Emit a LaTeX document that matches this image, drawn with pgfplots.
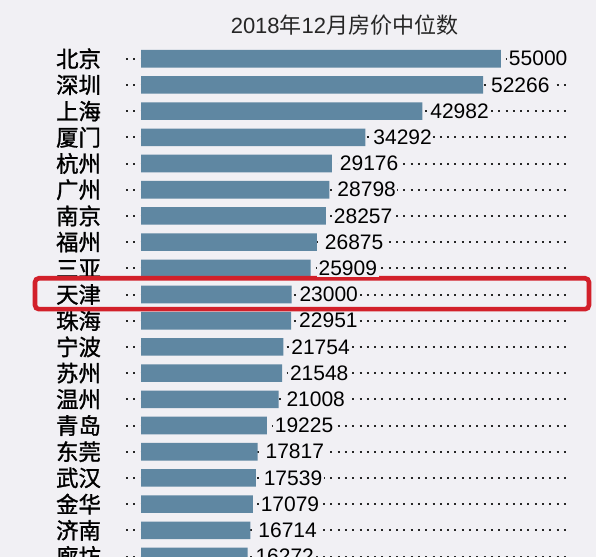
\documentclass[border=0pt]{standalone}
\usepackage{pgfplots}
\pgfplotsset{compat=1.18}
\usepackage{fontspec}
\setmainfont{Liberation Sans}
\newfontfamily\cjk{Noto Sans CJK SC}
\newfontfamily\cjkb[FakeBold=1.2]{Noto Sans CJK SC}
\definecolor{bg}{HTML}{F1F0F4}
\definecolor{barc}{HTML}{5F87A2}
\definecolor{redbox}{HTML}{D2202A}
\pgfplotstableread{
i v l
0 55000 55000
1 52266 52266
2 42982 42982
3 34292 34292
4 29176 29176
5 28798 28798
6 28257 28257
7 26875 26875
8 25909 25909
9 23000 23000
10 22951 22951
11 21754 21754
12 21548 21548
13 21008 21008
14 19225 19225
15 17817 17817
16 17539 17539
17 17079 17079
18 16714 16714
19 16272 16272
}\prices
\begin{document}
\begin{tikzpicture}
\path[use as bounding box] (0pt,0pt) rectangle (298pt,-278.5pt);
\clip (0pt,0pt) rectangle (298pt,-278.5pt);
\fill[bg] (0pt,0pt) rectangle (298pt,-278.5pt);
\begin{axis}[
  at={(63pt,-22.8pt)}, anchor=north west,
  scale only axis, width=222.5pt, height=262pt,
  xmin=-2292, xmax=65694, ymin=-0.5, ymax=19.5,
  y dir=reverse,
  xbar, bar width=8.8pt,
  axis line style={draw=none},
  xtick=\empty,
  ytick={0,...,19},
  yticklabels={北京,深圳,上海,厦门,杭州,广州,南京,福州,三亚,天津,珠海,宁波,苏州,温州,青岛,东莞,武汉,金华,济南,廊坊},
  yticklabel style={font=\cjkb\fontsize{11.2}{11.2}\selectfont, text=black, xshift=-9pt},
  major tick length=0pt,
  tick style={draw=none},
  ymajorgrids,
  grid style={black!85, line width=1pt, dash pattern=on 1pt off 2.65pt},
  nodes near coords,
  point meta=explicit symbolic,
  nodes near coords style={anchor=west, font=\fontsize{10.5}{10.5}\selectfont, text=black, fill=bg, inner sep=0.8pt, xshift=3pt},
  clip=false,
  title={2018{\cjk 年}12{\cjk 月房价中位数}},
  title style={at={(0.491,1)}, anchor=center, yshift=4.2pt, font=\fontsize{11}{11}\selectfont, text=black!85},
]
\addplot[fill=barc, draw=none] table[x=v, y=i, meta=l] {\prices};
\draw[redbox, line width=2.3pt, rounded corners=2pt] (axis cs:-16194,8.38) rectangle (axis cs:68444,9.56);
\end{axis}
\end{tikzpicture}
\end{document}
